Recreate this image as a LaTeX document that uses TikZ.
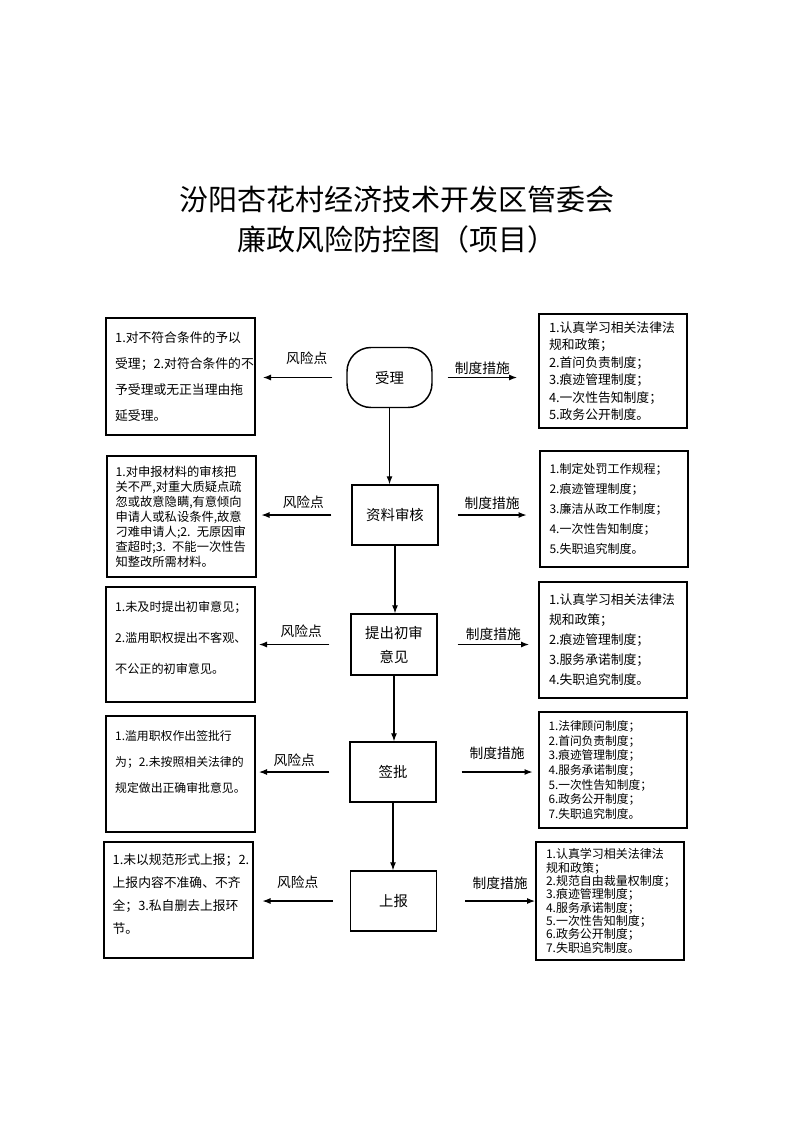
\documentclass[tikz,border=0pt]{standalone}
\usepackage{fontspec}
\setmainfont{Noto Sans CJK SC}
\usetikzlibrary{arrows.meta}

\tikzset{
  stepnode/.style={draw, line width=1.1pt, minimum width=64.5pt, minimum height=45pt, align=center, inner sep=2pt, font=\fontsize{10.8}{18}\selectfont},
  termnode/.style={stepnode, rounded corners=18pt, minimum width=63.75pt},
  riskbox/.style={draw, line width=1.5pt, minimum width=111.75pt, text width=98pt, align=left, inner sep=2pt},
  rulebox/.style={draw, line width=1.5pt, minimum width=111pt, text width=96pt, align=left, inner sep=2pt},
  arr/.style={line width=0.8pt, -{Latex[length=6pt,width=4.5pt]}},
  tag/.style={inner sep=0pt, font=\fontsize{10.3}{12}\selectfont},
}

\begin{document}
\begin{tikzpicture}[x=0.75pt,y=0.75pt,yscale=-1,xscale=1]
%page frame 793 x 1122
\useasboundingbox (0,0) rectangle (793,1122);

% Title
\node[font=\fontsize{21.75}{30}\selectfont, align=center] (title) at (397,220) {汾阳杏花村经济技术开发区管委会\\廉政风险防控图（项目）};

% Steps
\node[termnode] (s1) at (389.5,377.5) {受理};
\node[stepnode] (s2) at (395,515) {资料审核};
\node[stepnode, minimum height=45.75pt] (s3) at (394,644.5) {提出初审\\意见};
\node[stepnode] (s4) at (393,772) {签批};
\node[stepnode] (s5) at (393.5,901) {上报};

% Risk points
\node[riskbox, minimum height=87.75pt, font=\fontsize{9.6}{19.5}\selectfont] (r1) at (180.5,376.5) {1.对不符合条件的予以\\受理；2.对符合条件的不\\予受理或无正当理由拖\\延受理。};
\node[riskbox, minimum height=90.75pt, font=\fontsize{9.2}{11.25}\selectfont] (r2) at (181,516.5) {1.对申报材料的审核把\\关不严,对重大质疑点疏\\忽或故意隐瞒,有意倾向\\申请人或私设条件,故意\\刁难申请人;2. 无原因审\\查超时;3. 不能一次性告\\知整改所需材料。};
\node[riskbox, minimum height=86.25pt, font=\fontsize{9.1}{23.25}\selectfont] (r3) at (180.5,644.5) {1.未及时提出初审意见；\\2.滥用职权提出不客观、\\不公正的初审意见。\\[-12pt]\mbox{}};
\node[riskbox, minimum height=87pt, font=\fontsize{8.9}{19.5}\selectfont] (r4) at (180.5,774) {1.滥用职权作出签批行\\为；2.未按照相关法律的\\规定做出正确审批意见。\\\mbox{}};
\node[riskbox, minimum height=87pt, font=\fontsize{9.6}{17.25}\selectfont] (r5) at (178,900) {1.未以规范形式上报；2.\\上报内容不准确、不齐\\全；3.私自删去上报环\\节。\\[-7.5pt]\mbox{}};

% Measures
\node[rulebox, minimum height=85.5pt, font=\fontsize{9.6}{13.1}\selectfont] (m1) at (613,371) {1.认真学习相关法律法\\规和政策；\\2.首问负责制度；\\3.痕迹管理制度；\\4.一次性告知制度；\\5.政务公开制度。};
\node[rulebox, minimum height=87pt, font=\fontsize{9}{15}\selectfont] (m2) at (613.5,509) {1.制定处罚工作规程；\\2.痕迹管理制度；\\3.廉洁从政工作制度；\\4.一次性告知制度；\\5.失职追究制度。};
\node[rulebox, minimum height=87pt, font=\fontsize{9.6}{15}\selectfont] (m3) at (613,640) {1.认真学习相关法律法\\规和政策；\\2.痕迹管理制度；\\3.服务承诺制度；\\4.失职追究制度。};
\node[rulebox, minimum height=87pt, font=\fontsize{8.8}{11}\selectfont] (m4) at (612.5,770) {1.法律顾问制度；\\2.首问负责制度；\\3.痕迹管理制度；\\4.服务承诺制度；\\5.一次性告知制度；\\6.政务公开制度；\\7.失职追究制度。};
\node[rulebox, minimum height=88.5pt, font=\fontsize{9}{10}\selectfont] (m5) at (610,901) {1.认真学习相关法律法\\规和政策；\\2.规范自由裁量权制度；\\3.痕迹管理制度；\\4.服务承诺制度；\\5.一次性告知制度；\\6.政务公开制度；\\7.失职追究制度。};

% Flow down
\draw[arr] (s1.south) -- (s1.south |- s2.north);
\draw[arr] (s2.south) -- (s2.south |- s3.north);
\draw[arr] (s3.south) -- (s3.south |- s4.north);
\draw[arr] (s4.south) -- (s4.south |- s5.north);

% Risk arrows
\draw[arr] ([xshift=-10.5pt]s1.west) -- ([xshift=5.25pt]s1.west -| r1.east) node[tag, pos=0.37, above=9pt] (k1) {风险点};
\draw[arr] ([xshift=-15pt]s2.west) -- ([xshift=3.75pt]s2.west -| r2.east) node[tag, pos=0.4, above=4.5pt] (k2) {风险点};
\draw[arr] ([xshift=-15.75pt]s3.west) -- ([xshift=2.25pt]s3.west -| r3.east) node[tag, pos=0.4, above=4.5pt] (k3) {风险点};
\draw[arr] ([xshift=-15pt]s4.west) -- ([xshift=2.25pt]s4.west -| r4.east) node[tag, pos=0.5, above=3.75pt] (k4) {风险点};
\draw[arr] ([xshift=-12.75pt]s5.west) -- ([xshift=6.75pt]s5.west -| r5.east) node[tag, pos=0.5, above=9pt] (k5) {风险点};

% Measure arrows
\draw[arr] ([xshift=11.25pt]s1.east) -- ([xshift=-15.75pt]s1.east -| m1.west) node[tag, midway, above=1.5pt] (c1) {制度措施};
\draw[arr] ([xshift=14.25pt]s2.east) -- ([xshift=-9pt]s2.east -| m2.west) node[tag, midway, above=3.75pt] (c2) {制度措施};
\draw[arr] ([xshift=15pt]s3.east) -- ([xshift=-6.75pt]s3.east -| m3.west) node[tag, midway, above=2.25pt] (c3) {制度措施};
\draw[arr] ([xshift=18.75pt]s4.east) -- ([xshift=-3.75pt]s4.east -| m4.west) node[tag, midway, above=9pt] (c4) {制度措施};
\draw[arr] ([xshift=21pt]s5.east) -- (s5.east -| m5.west) node[tag, midway, above=8.25pt] (c5) {制度措施};

\end{tikzpicture}
\end{document}
